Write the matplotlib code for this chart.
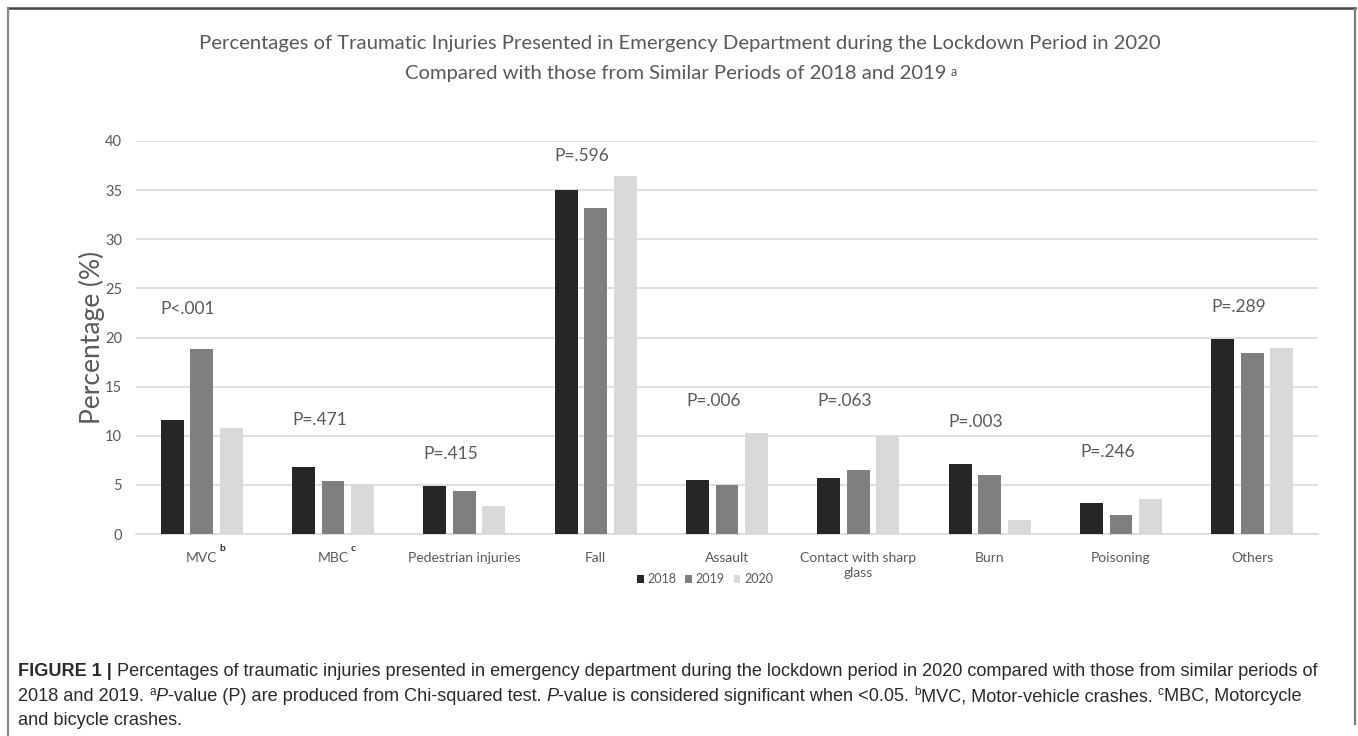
import numpy as np
import matplotlib
matplotlib.use("Agg")
import matplotlib.pyplot as plt
from matplotlib.lines import Line2D
from matplotlib.patches import Patch

# ---------------- data ----------------
categories = ["MVC", "MBC", "Pedestrian injuries", "Fall", "Assault",
              "Contact with sharp\nglass", "Burn", "Poisoning", "Others"]
superscripts = ["b", "c", "", "", "", "", "", "", ""]
years = ["2018", "2019", "2020"]
pct_2018 = [11.6, 6.8, 4.9, 35.0, 5.5, 5.7, 7.1, 3.2, 19.8]
pct_2019 = [18.8, 5.4, 4.4, 33.2, 5.0, 6.5, 6.0, 1.9, 18.4]
pct_2020 = [10.8, 5.1, 2.9, 36.4, 10.3, 10.0, 1.4, 3.6, 18.9]
p_values = ["P<.001", "P=.471", "P=.415", "P=.596", "P=.006",
            "P=.063", "P=.003", "P=.246", "P=.289"]
p_label_y = [22.9, 11.6, 8.1, 38.5, 13.5, 13.5, 11.4, 8.3, 23.1]
yticks = [0, 5, 10, 15, 20, 25, 30, 35, 40]

title_line1 = "Percentages of Traumatic Injuries Presented in Emergency Department during the Lockdown Period in 2020"
title_line2 = "Compared with those from Similar Periods of 2018 and 2019"
ylabel = "Percentage (%)"

# ---------------- style ----------------
W, H = 1358, 736
bar_colors = ["#262626", "#7f7f7f", "#d9d9d9"]
txt_gray = "#595959"
grid_col = "#d9d9d9"
chart_font = ["Lato", "DejaVu Sans"]
cap_font = ["Liberation Sans", "DejaVu Sans"]

fig = plt.figure(figsize=(W / 100, H / 100), dpi=100)
fig.patch.set_facecolor("white")
ax = fig.add_axes([136 / W, 1 - 534 / H, (1318 - 136) / W, (534 - 141) / H])

x = np.arange(len(categories))
pitch = 0.225
bw = 0.175
series = [pct_2018, pct_2019, pct_2020]
for k, (vals, col, yr) in enumerate(zip(series, bar_colors, years)):
    ax.bar(x + (k - 1) * pitch, vals, width=bw, color=col, label=yr, zorder=3)

ax.set_xlim(-0.5, len(categories) - 0.5)
ax.set_ylim(0, 40)
ax.set_yticks(yticks)
ax.set_yticklabels([str(t) for t in yticks], fontfamily=chart_font, fontsize=10.5, color=txt_gray)
ax.yaxis.grid(True, color=grid_col, lw=1.2, zorder=0)
ax.set_axisbelow(True)
for s in ["top", "right", "left"]:
    ax.spines[s].set_visible(False)
ax.spines["bottom"].set_color(grid_col)
ax.spines["bottom"].set_linewidth(1.2)
ax.tick_params(axis="both", length=0)
ax.tick_params(axis="y", pad=10)
ax.set_xticks(x)
ax.set_xticklabels(categories, fontfamily=chart_font, fontsize=10, color=txt_gray, linespacing=1.25)
ax.tick_params(axis="x", pad=13)

ax.set_ylabel(ylabel, fontfamily=chart_font, fontsize=19, color=txt_gray, labelpad=0)

# P-value labels
for i, (pv, py) in enumerate(zip(p_values, p_label_y)):
    ax.text(x[i] - pitch - bw / 2, py, pv, ha="left", va="center",
            fontfamily=chart_font, fontsize=12.5, color=txt_gray)

# Titles
fig.text(680 / W, 1 - 44 / H, title_line1, ha="center", va="center",
         fontfamily=chart_font, fontsize=14.6, color=txt_gray)
t2 = fig.text(676 / W, 1 - 73 / H, title_line2, ha="center", va="center",
              fontfamily=chart_font, fontsize=14.6, color=txt_gray)

# Legend
handles = [Patch(facecolor=c, edgecolor="none") for c in bar_colors]
leg = fig.legend(handles, years, loc="center", bbox_to_anchor=(705 / W, 1 - 579 / H),
                 ncol=3, frameon=False, handlelength=0.55, handleheight=0.6,
                 handletextpad=0.3, columnspacing=0.7,
                 prop={"family": chart_font, "size": 9})
for t in leg.get_texts():
    t.set_color(txt_gray)

fig.canvas.draw()
renderer = fig.canvas.get_renderer()

# superscript after title line 2
bb = t2.get_window_extent(renderer)
fig.text((bb.x1 + 4) / W, (bb.y1 - 1) / H, "a", ha="left", va="top",
         fontfamily=chart_font, fontsize=9, color=txt_gray)

# superscripts on tick labels
for lab, sup in zip(ax.get_xticklabels(), superscripts):
    if sup:
        b = lab.get_window_extent(renderer)
        fig.text((b.x1 + 2) / W, (b.y1 + 8) / H, sup, ha="left", va="top",
                 fontfamily=chart_font, fontsize=7.5, color="#333333", fontweight="bold")

# ---------------- caption ----------------
cap_color = "#2a2a2a"
line1 = [("FIGURE 1 | ", "bold", "normal", False),
         ("Percentages of traumatic injuries presented in emergency department during the lockdown period in 2020 compared with those from similar periods of", "normal", "normal", False)]
line2 = [("2018 and 2019. ", "normal", "normal", False), ("a", "normal", "normal", True),
         ("P", "normal", "italic", False),
         ("-value (P) are produced from Chi-squared test. ", "normal", "normal", False),
         ("P", "normal", "italic", False),
         ("-value is considered significant when <0.05. ", "normal", "normal", False),
         ("b", "normal", "normal", True),
         ("MVC, Motor-vehicle crashes. ", "normal", "normal", False),
         ("c", "normal", "normal", True),
         ("MBC, Motorcycle", "normal", "normal", False)]
line3 = [("and bicycle crashes.", "normal", "normal", False)]


def draw_line(segs, x0, y0, size, measure_only=False):
    xcur = x0
    arts = []
    for text, weight, style, sup in segs:
        fs = size * 0.65 if sup else size
        yy = y0 + (size * 0.45 if sup else 0)
        t = fig.text(xcur / W, yy / H, text, ha="left", va="baseline",
                     fontfamily=cap_font, fontsize=fs, fontweight=weight,
                     fontstyle=style, color=cap_color)
        b = t.get_window_extent(renderer)
        xcur = b.x1
        arts.append(t)
    if measure_only:
        for a in arts:
            a.remove()
    return xcur - x0

# fit caption size to line 1 width
base = 12.0
w = draw_line(line1, 18, 0, base, measure_only=True)
cap_size = base * (1322 - 18) / w
draw_line(line1, 18, H - 676, cap_size)
draw_line(line2, 18, H - 701, cap_size)
draw_line(line3, 18, H - 725, cap_size)

# ---------------- frame lines ----------------
fig.add_artist(Line2D([8 / W, 1355 / W], [1 - 8 / H, 1 - 8 / H], transform=fig.transFigure,
                      color="#444444", lw=1.8))
fig.add_artist(Line2D([8 / W, 8 / W], [1 - 8 / H, 0], transform=fig.transFigure,
                      color="#8a8a8a", lw=1.6))
fig.add_artist(Line2D([1355 / W, 1355 / W], [1 - 8 / H, 1 - 724 / H], transform=fig.transFigure,
                      color="#7a7a7a", lw=1.6))

fig.savefig("out.png", dpi=100, facecolor="white")
